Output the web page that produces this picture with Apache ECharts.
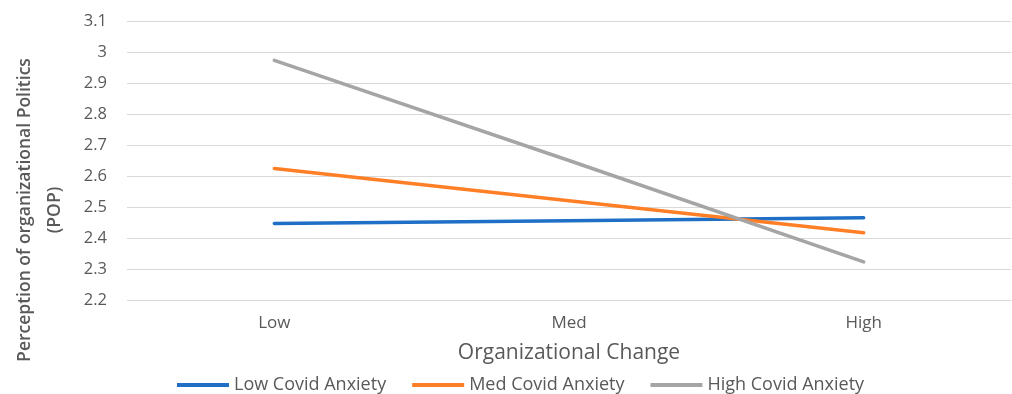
<!DOCTYPE html>
<html>
<head>
<meta charset="utf-8">
<script src="https://cdn.jsdelivr.net/npm/echarts@6/dist/echarts.min.js"></script>
<style>
  html, body { margin: 0; padding: 0; background: #fff; }
  #chart { width: 1012px; height: 394px; }
</style>
</head>
<body>
<div id="chart"></div>
<script>
// Organizational change levels (x categories)
const categories = ['Low', 'Med', 'High'];

// Perception of organizational politics by Covid anxiety level
const lowCovidAnxiety  = [2.447, 2.456, 2.465];
const medCovidAnxiety  = [2.624, 2.520, 2.417];
const highCovidAnxiety = [2.973, 2.650, 2.323];

const seriesNames = ['Low Covid Anxiety', 'Med Covid Anxiety', 'High Covid Anxiety'];
const seriesColors = ['#1f6fc6', '#ff7f27', '#a5a5a5'];

const yMin = 2.2, yMax = 3.1, yStep = 0.1;

const FONT = '"Open Sans", Lato, sans-serif';
const TEXT = '#595959';

const chart = echarts.init(document.getElementById('chart'), null, { renderer: 'canvas' });

const values = [lowCovidAnxiety, medCovidAnxiety, highCovidAnxiety];

chart.setOption({
  animation: false,
  backgroundColor: '#ffffff',
  textStyle: { fontFamily: FONT, color: TEXT },
  grid: { left: 127, right: 1, top: 21, bottom: 94, containLabel: false },
  legend: {
    bottom: -5,
    left: 172,
    icon: 'rect',
    itemWidth: 52,
    itemHeight: 4,
    itemGap: 26,
    textStyle: { fontFamily: FONT, fontSize: 18, color: TEXT },
    data: seriesNames
  },
  xAxis: {
    type: 'category',
    data: categories,
    boundaryGap: true,
    axisLine: { show: false },
    axisTick: { show: false },
    axisLabel: { fontFamily: FONT, fontSize: 17, color: TEXT, margin: 15 },
    name: 'Organizational Change',
    nameLocation: 'middle',
    nameGap: 43,
    nameTextStyle: { fontFamily: FONT, fontSize: 21, color: TEXT }
  },
  yAxis: {
    type: 'value',
    min: yMin,
    max: yMax,
    interval: yStep,
    axisLine: { show: false },
    axisTick: { show: false },
    splitLine: { lineStyle: { color: '#d9d9d9', width: 1 } },
    axisLabel: {
      fontFamily: FONT, fontSize: 16.5, color: TEXT, margin: 20,
      formatter: v => String(+v.toFixed(1))
    }
  },
  graphic: [{
    type: 'text',
    x: 40,
    y: 210,
    rotation: Math.PI / 2,
    style: {
      text: 'Perception of organizational Politics\n(POP)',
      fontFamily: FONT,
      fontSize: 17.5,
      fontWeight: 600,
      fill: TEXT,
      align: 'center',
      verticalAlign: 'middle',
      lineHeight: 30
    }
  }],
  series: seriesNames.map((name, i) => ({
    name,
    type: 'line',
    data: values[i],
    symbol: 'none',
    smooth: false,
    lineStyle: { color: seriesColors[i], width: 3.5, cap: 'round' },
    itemStyle: { color: seriesColors[i] }
  }))
});
</script>
</body>
</html>
